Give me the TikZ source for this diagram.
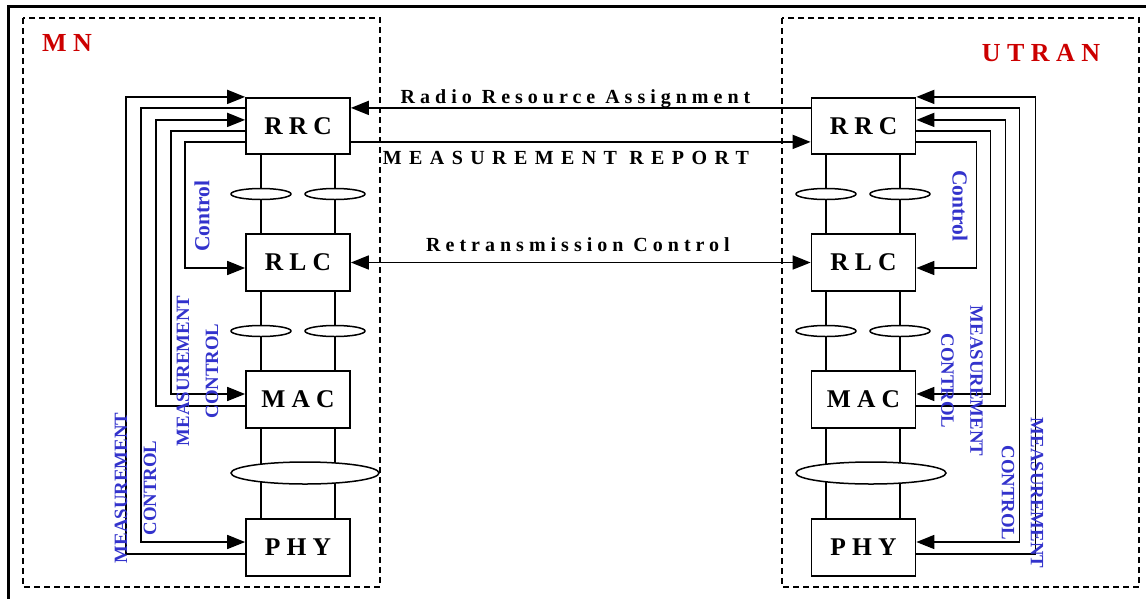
\documentclass[tikz,border=0pt]{standalone}
\usepackage{fontspec}
\setmainfont{Liberation Serif}
\usetikzlibrary{arrows.meta,shapes.geometric,backgrounds}
\definecolor{mnred}{RGB}{204,0,0}
\definecolor{lblue}{RGB}{51,51,204}
\begin{document}
\begin{tikzpicture}[x=1pt,y=-1pt,
  layerbox/.style={draw,line width=1.7pt,minimum width=104pt,minimum height=56.5pt,inner sep=0pt,
    font={\fontsize{25.5}{30}\selectfont\bfseries\addfontfeatures{LetterSpace=24}}},
  chan/.style={draw,ellipse,fill=white,line width=1.5pt,minimum width=60pt,minimum height=11pt,inner sep=0pt},
  widechan/.style={chan,minimum width=148pt,minimum height=22pt},
  link/.style={line width=1.6pt},
  arr/.style={link,-{Triangle[length=18pt,width=14pt]}},
  dbl/.style={link,{Triangle[length=18pt,width=14pt]}-{Triangle[length=18pt,width=14pt]}},
  msg/.style={anchor=base,inner sep=0pt,
    font={\fontsize{20}{24}\selectfont\bfseries\addfontfeatures{LetterSpace=25}}},
  sidelbl/.style={text=lblue,inner sep=0pt,align=center,font={\fontsize{18.8}{29}\selectfont\bfseries}},
  ctl/.style={text=lblue,inner sep=0pt,font={\fontsize{21.5}{26}\selectfont\bfseries}},
  domainbox/.style={draw,dash pattern=on 6pt off 4pt,line width=1.6pt},
  domtitle/.style={text=mnred,inner sep=0pt,
    font={\fontsize{26}{30}\selectfont\bfseries\addfontfeatures{LetterSpace=25}}}
]
\useasboundingbox (0,0) rectangle (1146,598);

% outer frame (top and left edges)
\draw[line width=3pt] (8,610) -- (8,6) -- (1160,6);

% domains
\draw[domainbox] (23,18) rectangle (380,587);
\draw[domainbox] (782,18) rectangle (1139,587);
\node[domtitle,anchor=west] (mn) at (42,42.5) {MN};
\node[domtitle] (utran) at (1041,53) {UTRAN};

% protocol layers, MN side
\node[layerbox] (rrcL) at (298,126) {RRC};
\node[layerbox] (rlcL) at (298,262.5) {RLC};
\node[layerbox] (macL) at (298,399.5) {MAC};
\node[layerbox] (phyL) at (298,547.5) {PHY};
% protocol layers, UTRAN side
\node[layerbox] (rrcR) at (863.5,126) {RRC};
\node[layerbox] (rlcR) at (863.5,262.5) {RLC};
\node[layerbox] (macR) at (863.5,399.5) {MAC};
\node[layerbox] (phyR) at (863.5,547.5) {PHY};

% service access points
\node[chan] (cL1) at (261,194) {};
\node[chan] (cL2) at (335,194) {};
\node[chan] (cL3) at (261,331) {};
\node[chan] (cL4) at (335,331) {};
\node[widechan] (cL5) at (305,473) {};
\node[chan] (cR1) at (826,194) {};
\node[chan] (cR2) at (900,194) {};
\node[chan] (cR3) at (826,331) {};
\node[chan] (cR4) at (900,331) {};
\node[widechan,minimum width=150pt] (cR5) at (871,473) {};

% vertical links between layers
\begin{pgfonlayer}{background}
\foreach \c in {cL1,cL2}{
  \draw[link] (rrcL.south -| \c) -- (rlcL.north -| \c);
  \draw[link] (rlcL.south -| \c) -- (macL.north -| \c);
  \draw[link] (macL.south -| \c) -- (phyL.north -| \c);
}
\foreach \c in {cR1,cR2}{
  \draw[link] (rrcR.south -| \c) -- (rlcR.north -| \c);
  \draw[link] (rlcR.south -| \c) -- (macR.north -| \c);
  \draw[link] (macR.south -| \c) -- (phyR.north -| \c);
}
\end{pgfonlayer}

% peer-to-peer messages
\draw[arr] ([yshift=-11pt]rrcR.north west) -- ([yshift=-11pt]rrcL.north east);
\draw[arr] ([yshift=-45pt]rrcL.north east) -- ([yshift=-45pt]rrcR.north west);
\draw[dbl] (rlcL.east) -- (rlcR.west);
\node[msg] (rra) at (575.5,103) {Radio Resource Assignment};
\node[msg,font={\fontsize{20}{24}\selectfont\bfseries\addfontfeatures{LetterSpace=37}}] (mrep) at (566,164.5) {MEASUREMENT REPORT};
\node[msg] (rtx) at (578,251.5) {Retransmission Control};

% control and measurement loops, MN side
\draw[arr] ([yshift=-6.5pt]phyL.west) -- ++(-119,0) |- (rrcL.north west);
\draw[arr] ([yshift=-11pt]rrcL.north west) -- ++(-104,0) |- ([yshift=5.5pt]phyL.west);
\draw[arr] ([yshift=-6.5pt]macL.west) -- ++(-89,0) |- ([yshift=-23pt]rrcL.north west);
\draw[arr] ([yshift=-34pt]rrcL.north west) -- ++(-74,0) |- ([yshift=5.5pt]macL.west);
\draw[arr] ([yshift=-45pt]rrcL.north west) -- ++(-60,0) |- ([yshift=-5.5pt]rlcL.west);

% control and measurement loops, UTRAN side
\draw[arr] ([yshift=-6.5pt]phyR.east) -- ++(119,0) |- (rrcR.north east);
\draw[arr] ([yshift=-11pt]rrcR.north east) -- ++(103,0) |- ([yshift=5.5pt]phyR.east);
\draw[arr] ([yshift=-6.5pt]macR.east) -- ++(89,0) |- ([yshift=-23pt]rrcR.north east);
\draw[arr] ([yshift=-34pt]rrcR.north east) -- ++(74,0) |- ([yshift=5.5pt]macR.east);
\draw[arr] ([yshift=-45pt]rrcR.north east) -- ++(60,0) |- ([yshift=-5.5pt]rlcR.east);

% loop labels
\node[ctl,rotate=90] (ctlL) at (202,216) {Control};
\node[ctl,rotate=-90] (ctlR) at (960,206) {Control};
\node[sidelbl,rotate=90] (mcL1) at (197.5,371) {MEASUREMENT\\CONTROL};
\node[sidelbl,rotate=90] (mcL2) at (135.5,488) {MEASUREMENT\\CONTROL};
\node[sidelbl,rotate=-90] (mcR1) at (962,381) {MEASUREMENT\\CONTROL};
\node[sidelbl,rotate=-90] (mcR2) at (1022.5,493) {MEASUREMENT\\CONTROL};
\end{tikzpicture}
\end{document}
